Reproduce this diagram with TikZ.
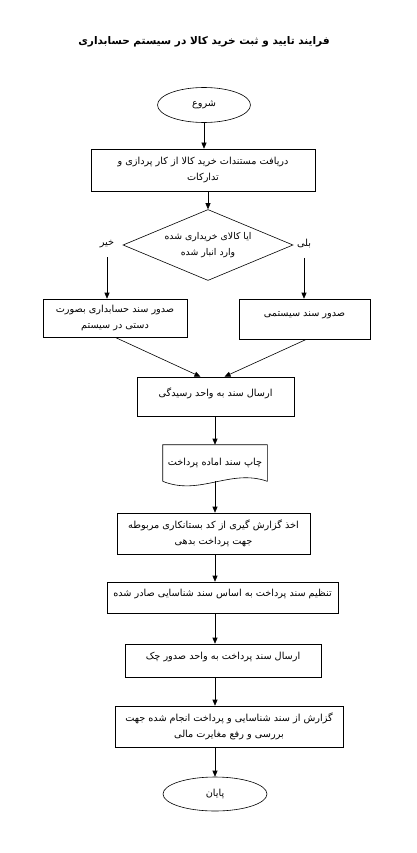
\documentclass[tikz,border=0pt]{standalone}
\usepackage{fontspec}
\newfontfamily\arabicfont[Script=Arabic]{DejaVu Sans}
\TeXXeTstate=1
\usetikzlibrary{shapes.geometric, arrows.meta}
\newcommand{\fa}[1]{{\arabicfont\beginR #1\endR}}
\tikzset{
  flowbox/.style={draw, line width=0.6pt, inner sep=2pt, align=center,
                  font=\fontsize{9.7}{15.5}\selectfont},
  toptext/.style={text depth=9pt},
  terminal/.style={draw, ellipse, line width=0.6pt, inner sep=0pt,
                   font=\fontsize{9.7}{15.5}\selectfont},
  decision/.style={draw, diamond, aspect=2.4, line width=0.6pt, inner sep=0pt, align=center,
                   minimum width=170pt, minimum height=71pt,
                   font=\fontsize{9.3}{16}\selectfont},
  answer/.style={font=\fontsize{9.7}{15.5}\selectfont},
  arr/.style={-{Triangle[length=6pt, width=5pt]}, line width=0.6pt}
}

\begin{document}
\begin{tikzpicture}[x=1pt, y=-1pt]
    \path[use as bounding box, fill=white] (0,0) rectangle (417,853);
    \node[font=\fontsize{10.5}{12}\selectfont\bfseries] (title) at (204,42)
          {\fa{فرایند تایید و ثبت خرید کالا در سیستم حسابداری}};
    \node[terminal, minimum width=93pt, minimum height=35pt] (start) at (204,105)
          {\fa{شروع}};
    \node[flowbox, minimum width=224pt, minimum height=42pt] (receive) at (203,170)
          {\fa{دریافت مستندات خرید کالا از کار پردازی و}\\ \fa{تدارکات}};
    \node[decision] (check) at (208,245)
          {\fa{ایا کالای خریداری شده}\\ \fa{وارد انبار شده}};
    \node[answer] (no) at (107,244) {\fa{خیر}};
    \node[answer] (yes) at (304,244) {\fa{بلی}};
    \node[flowbox, minimum width=144pt, minimum height=38pt] (manual) at (115,318)
          {\fa{صدور سند حسابداری بصورت}\\ \fa{دستی در سیستم}};
    \node[flowbox, toptext, minimum width=131pt, minimum height=40pt] (auto) at (304.5,319)
          {\fa{صدور سند سیستمی}};
    \node[flowbox, toptext, minimum width=157pt, minimum height=39pt] (audit) at (215.5,396.5)
          {\fa{ارسال سند به واحد رسیدگی}};
    \node[flowbox, draw=none, minimum width=104pt, minimum height=36pt] (print) at (215,463)
          {\fa{چاپ سند اماده پرداخت}};
    \draw[line width=0.6pt] (print.south west) -- (print.north west) -- (print.north east)
          -- (print.south east) .. controls +(-37,-13) and +(37,15) .. (print.south west);
    \node[flowbox, minimum width=193pt, minimum height=41pt] (report) at (213.5,533.5)
          {\fa{اخذ گزارش گیری از کد بستانکاری مربوطه}\\ \fa{جهت پرداخت بدهی}};
    \node[flowbox, toptext, minimum width=231pt, minimum height=31pt] (voucher) at (222.5,597.5)
          {\fa{تنظیم سند پرداخت به اساس سند شناسایی صادر شده}};
    \node[flowbox, toptext, minimum width=196pt, minimum height=33pt] (cheque) at (223,660.5)
          {\fa{ارسال سند پرداخت به واحد صدور چک}};
    \node[flowbox, minimum width=228pt, minimum height=41pt] (reconcile) at (229,726.5)
          {\fa{گزارش از سند شناسایی و پرداخت انجام شده جهت}\\ \fa{بررسی و رفع مغایرت مالی}};
    \node[terminal, minimum width=104pt, minimum height=34pt] (finish) at (215,794)
          {\fa{پایان}};

    \draw[arr] (start.south) -- (start.south |- receive.north);
    \draw[arr] (receive.south -| check) -- (check.north);
    \draw[arr] ([yshift=-6pt]no.south) -- (no.south |- manual.north);
    \draw[arr] ([yshift=-6pt]yes.south) -- (yes.south |- auto.north);
    \draw[arr] (manual.south) -- ([xshift=-15pt]audit.north);
    \draw[arr] ([xshift=2pt]auto.south) -- ([xshift=9pt]audit.north);
    \draw[arr] (audit.south -| print) -- (print.north);
    \draw[arr] (print.south) -- (print.south |- report.north);
    \draw[arr] (report.south -| print) -- (print |- voucher.north);
    \draw[arr] (voucher.south -| print) -- (print |- cheque.north);
    \draw[arr] (cheque.south -| print) -- (print |- reconcile.north);
    \draw[arr] (reconcile.south -| print) -- (finish.north);
  \end{tikzpicture}
\end{document}
